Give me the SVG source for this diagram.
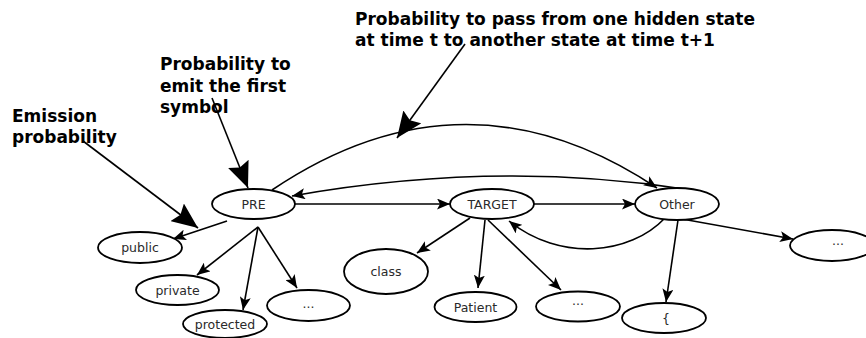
<svg xmlns="http://www.w3.org/2000/svg" width="866" height="338" viewBox="0 0 866 338">
<style>
.node ellipse{fill:#fff;stroke:#000;stroke-width:1.8}
.node text{font-family:"DejaVu Sans",sans-serif;font-size:12.5px;fill:#2a2a2a;text-anchor:middle}
.lbl{font-family:"DejaVu Sans",sans-serif;font-size:17px;font-weight:bold;fill:#000}
.edge{fill:none;stroke:#000;stroke-width:1.6}
.e{marker-end:url(#sm)}
.a{marker-end:url(#big)}
</style>
<defs>
<marker id="sm" markerUnits="userSpaceOnUse" markerWidth="14" markerHeight="11" refX="13" refY="5.5" orient="auto">
<path d="M0,0 L13,5.5 L0,11 L3,5.5 z" fill="#000"/>
</marker>
<marker id="big" markerUnits="userSpaceOnUse" markerWidth="27" markerHeight="22" refX="26" refY="11" orient="auto">
<path d="M0,0 L26,11 L0,22 L4,11 z" fill="#000"/>
</marker>
</defs>
<rect width="866" height="338" fill="#fff"/>
<g id="labels">
<text class="lbl" x="355" y="25">Probability to pass from one hidden state</text>
<text class="lbl" x="355" y="46">at time t to another state at time t+1</text>
<text class="lbl" x="160" y="70">Probability to</text>
<text class="lbl" x="160" y="91.5">emit the first</text>
<text class="lbl" x="160" y="113">symbol</text>
<text class="lbl" x="12" y="122">Emission</text>
<text class="lbl" x="12" y="143">probability</text>
</g>
<g id="connectors">
<path class="edge a" d="M83,141 L198,228"/>
<path class="edge a" d="M212,98 L248,188"/>
<path class="edge a" d="M465,44 L397,138"/>
<path class="edge e" d="M227,221 L173,239"/>
<path class="edge e" d="M258,227 L197,275"/>
<path class="edge e" d="M258,227 L243,310"/>
<path class="edge e" d="M258,227 L297,288"/>
<path class="edge e" d="M295,204 L450,204"/>
<path class="edge e" d="M534,204 L635,204"/>
<path class="edge e" d="M470,218 L417,253"/>
<path class="edge e" d="M485,220 L478,288"/>
<path class="edge e" d="M488,220 L561,290"/>
<path class="edge e" d="M678,220 L666,302"/>
<path class="edge e" d="M682,219 L793,239"/>
<path class="edge e" d="M272,190 Q465,60 657,188"/>
<path class="edge e" d="M684,189 Q495,160 292,196"/>
<path class="edge e" d="M665,218 C630,255 560,262 509,221"/>
</g>
<g id="PRE" class="node"><ellipse cx="253.5" cy="204" rx="41.5" ry="15"/><text x="253.5" y="208.5">PRE</text></g>
<g id="public" class="node"><ellipse cx="140" cy="247.5" rx="42" ry="15.5"/><text x="140" y="252">public</text></g>
<g id="private" class="node"><ellipse cx="177.5" cy="290" rx="41.5" ry="15"/><text x="177.5" y="294.5">private</text></g>
<g id="protected" class="node"><ellipse cx="225" cy="324" rx="42" ry="14"/><text x="225" y="328.5">protected</text></g>
<g id="pre_more" class="node"><ellipse cx="308.5" cy="305.5" rx="41.5" ry="15.5"/><text x="308.5" y="308">...</text></g>
<g id="class" class="node"><ellipse cx="386" cy="271.5" rx="42" ry="22.5"/><text x="386" y="276">class</text></g>
<g id="TARGET" class="node"><ellipse cx="492" cy="204" rx="42" ry="15"/><text x="492" y="208.5">TARGET</text></g>
<g id="Other" class="node"><ellipse cx="677" cy="204" rx="42" ry="16"/><text x="677" y="208.5">Other</text></g>
<g id="Patient" class="node"><ellipse cx="475.5" cy="307" rx="41" ry="15"/><text x="475.5" y="311.5">Patient</text></g>
<g id="target_more" class="node"><ellipse cx="578" cy="306.5" rx="42" ry="15"/><text x="578" y="305">...</text></g>
<g id="brace" class="node"><ellipse cx="664" cy="318" rx="42" ry="15"/><text x="666" y="322.5">{</text></g>
<g id="other_more" class="node"><ellipse cx="832" cy="245.5" rx="42" ry="15.5"/><text x="838" y="245">...</text></g>
</svg>
